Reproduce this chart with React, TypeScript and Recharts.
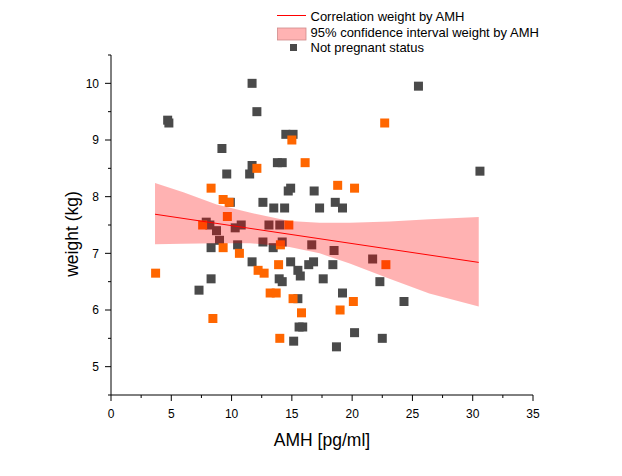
import { ComposedChart, Scatter, Area, Line, XAxis, YAxis, Label } from 'recharts';

// AMH [pg/ml] / weight (kg)
const notPregnantAmh = [
  11.7, 12.1, 4.7, 4.8, 9.2, 14.5, 15.1, 13.8, 14.2, 11.7, 9.6, 11.5, 14.9, 14.7, 16.85, 9.9,
  12.6, 13.5, 14.4, 17.3, 18.6, 19.2, 25.5, 30.6, 7.9, 8.2, 8.75, 10.3, 10.8, 13.1, 14.0, 9.0,
  8.3, 10.5, 12.6, 13.45, 14.2, 16.65, 18.5, 21.7, 7.3, 8.3, 11.7, 14.9, 15.5, 15.7, 16.4, 16.8,
  13.95, 14.2, 15.5, 15.6, 15.9, 15.15, 18.4, 17.6, 19.2, 24.3, 22.3, 20.2, 22.5, 18.7,
];
const notPregnantWeight = [
  10.0, 9.5, 9.35, 9.3, 8.85, 9.1, 9.1, 8.6, 8.6, 8.55, 8.4, 8.4, 8.15, 8.1, 8.1, 7.9,
  7.9, 7.8, 7.8, 7.8, 7.9, 7.8, 9.95, 8.45, 7.55, 7.5, 7.4, 7.45, 7.5, 7.5, 7.5, 7.23,
  7.1, 7.15, 7.2, 7.1, 7.2, 7.15, 7.05, 6.9, 6.35, 6.55, 6.85, 6.85, 6.7, 6.6, 6.8, 6.85,
  6.55, 6.5, 6.2, 5.7, 5.7, 5.45, 6.8, 6.55, 6.3, 6.15, 6.5, 5.6, 5.5, 5.35,
];
const pregnantAmh = [
  22.7, 15.0, 16.1, 12.1, 8.3, 18.8, 20.2, 9.3, 9.8, 9.65, 7.6, 14.75, 9.3, 14.05, 10.65, 3.7,
  12.2, 12.7, 13.9, 13.2, 13.7, 15.1, 15.8, 8.45, 14.0, 22.8, 20.1, 19.0,
];
const pregnantWeight = [
  9.3, 9.0, 8.6, 8.5, 8.15, 8.2, 8.15, 7.95, 7.9, 7.65, 7.5, 7.5, 7.1, 7.15, 7.0, 6.65,
  6.7, 6.65, 6.8, 6.3, 6.3, 6.2, 5.95, 5.85, 5.5, 6.8, 6.15, 6.0,
];

// confidence band and fitted line
const ciAmh = [3.65, 6, 8.76, 11.5, 14.8, 17.3, 19.8, 23.1, 26.4, 30.5];
const ciLower = [7.16, 7.17, 7.18, 7.18, 7.11, 7.0, 6.82, 6.55, 6.29, 6.06];
const ciUpper = [8.24, 8.08, 7.86, 7.72, 7.57, 7.54, 7.54, 7.56, 7.6, 7.64];
const fitAmh = [3.65, 30.5];
const fitWeight = [7.69, 6.84];

const xTicks = [0, 2.5, 5, 7.5, 10, 12.5, 15, 17.5, 20, 22.5, 25, 27.5, 30, 32.5, 35];
const yTicks = [4.5, 5, 5.5, 6, 6.5, 7, 7.5, 8, 8.5, 9, 9.5, 10, 10.5];

const notPregnant = notPregnantAmh.map((x, i) => ({ x, y: notPregnantWeight[i] }));
const pregnant = pregnantAmh.map((x, i) => ({ x, y: pregnantWeight[i] }));
const bandRows = ciAmh.map((x, i) => {
  const k = fitAmh.indexOf(x);
  return { x, band: [ciLower[i], ciUpper[i]], fit: k >= 0 ? fitWeight[k] : null };
});

const FONT = '"Liberation Sans", Arial, sans-serif';
const GRAY = '#4a4a4a';
const ORANGE = '#ff6600';

const square = (color: string) => (props: any) =>
  <rect x={props.cx - 4.5} y={props.cy - 4.5} width={9} height={9} fill={color} />;

// tickSize 6 + tickMargin 6 => axis line sits 12px from x/y given to the tick
const XTick = (props: any) => {
  const { x, y, payload } = props;
  const axisY = y - 12;
  const major = payload.value % 5 === 0;
  return (
    <g>
      <line x1={x} x2={x} y1={axisY} y2={axisY + (major ? 6 : 3)} stroke="#000" />
      {major && (
        <text x={x} y={axisY + 22.5} textAnchor="middle" fontSize={12} fill="#000" fontFamily={FONT}>
          {payload.value}
        </text>
      )}
    </g>
  );
};

const YTick = (props: any) => {
  const { x, y, payload } = props;
  const axisX = x + 12;
  const major = Number.isInteger(payload.value);
  return (
    <g>
      <line x1={axisX - (major ? 6 : 3)} x2={axisX} y1={y} y2={y} stroke="#000" />
      {major && (
        <text x={axisX - 12} y={y + 4.3} textAnchor="end" fontSize={12} fill="#000" fontFamily={FONT}>
          {payload.value}
        </text>
      )}
    </g>
  );
};

function ChartLegend() {
  return (
    <svg width={300} height={60} style={{ position: 'absolute', left: 270, top: 0 }}>
      <line x1={7} x2={36} y1={15.5} y2={15.5} stroke="#ff0000" strokeWidth={1} />
      <text x={40.5} y={20.5} fontSize={13} fontFamily={FONT} fill="#000">Correlation weight by AMH</text>
      <rect x={7.5} y={28} width={28.5} height={12} fill="#ffb3b3" stroke="#d08a8a" strokeWidth={0.8} />
      <text x={40.5} y={36.5} fontSize={13} fontFamily={FONT} fill="#000">95% confidence interval weight by AMH</text>
      <rect x={20} y={44} width={7} height={7} fill={GRAY} />
      <text x={40.5} y={52} fontSize={13} fontFamily={FONT} fill="#000">Not pregnant status</text>
    </svg>
  );
}

export default function App() {
  return (
    <div style={{ position: 'absolute', left: 0, top: 0, width: 622, height: 476, background: '#fff' }}>
      <ComposedChart
        width={622}
        height={476}
        data={bandRows}
        margin={{ top: 55, right: 89, bottom: 31, left: 51 }}
        style={{ fontFamily: FONT }}
      >
        <XAxis
          type="number"
          dataKey="x"
          domain={[0, 35]}
          ticks={xTicks}
          interval={0}
          allowDataOverflow
          height={50}
          tickSize={6}
          tickMargin={6}
          tickLine={false}
          axisLine={{ stroke: '#000', strokeWidth: 1 }}
          tick={<XTick />}
        >
          <Label
            content={(p: any) => {
              const vb = p.viewBox || { x: 111, y: 395, width: 422 };
              return (
                <text x={vb.x + vb.width / 2} y={vb.y + 51} textAnchor="middle" fontSize={17.5} fontFamily={FONT} fill="#000">
                  AMH [pg/ml]
                </text>
              );
            }}
          />
        </XAxis>
        <YAxis
          type="number"
          dataKey="y"
          domain={[4.5, 10.5]}
          ticks={yTicks}
          interval={0}
          allowDataOverflow
          width={60}
          tickSize={6}
          tickMargin={6}
          tickLine={false}
          axisLine={{ stroke: '#000', strokeWidth: 1 }}
          tick={<YTick />}
        >
          <Label
            content={(p: any) => {
              const vb = p.viewBox || { x: 51, y: 55, width: 60, height: 340 };
              const cx = vb.x + vb.width - 33;
              const cy = vb.y + vb.height / 2 + 9;
              return (
                <text x={cx} y={cy} transform={`rotate(-90, ${cx}, ${cy})`} textAnchor="middle" fontSize={17.5} fontFamily={FONT} fill="#000">
                  weight (kg)
                </text>
              );
            }}
          />
        </YAxis>
        <Scatter data={notPregnant} dataKey="y" shape={square(GRAY)} isAnimationActive={false} />
        <Scatter data={pregnant} dataKey="y" shape={square(ORANGE)} isAnimationActive={false} />
        <Area
          dataKey="band"
          type="linear"
          fill="#ff0000"
          fillOpacity={0.3}
          stroke="none"
          dot={false}
          activeDot={false}
          isAnimationActive={false}
          zIndex={700}
        />
        <Line
          dataKey="fit"
          type="linear"
          stroke="#ff0000"
          strokeWidth={1}
          dot={false}
          activeDot={false}
          connectNulls
          isAnimationActive={false}
          zIndex={800}
        />
      </ComposedChart>
      <ChartLegend />
    </div>
  );
}
